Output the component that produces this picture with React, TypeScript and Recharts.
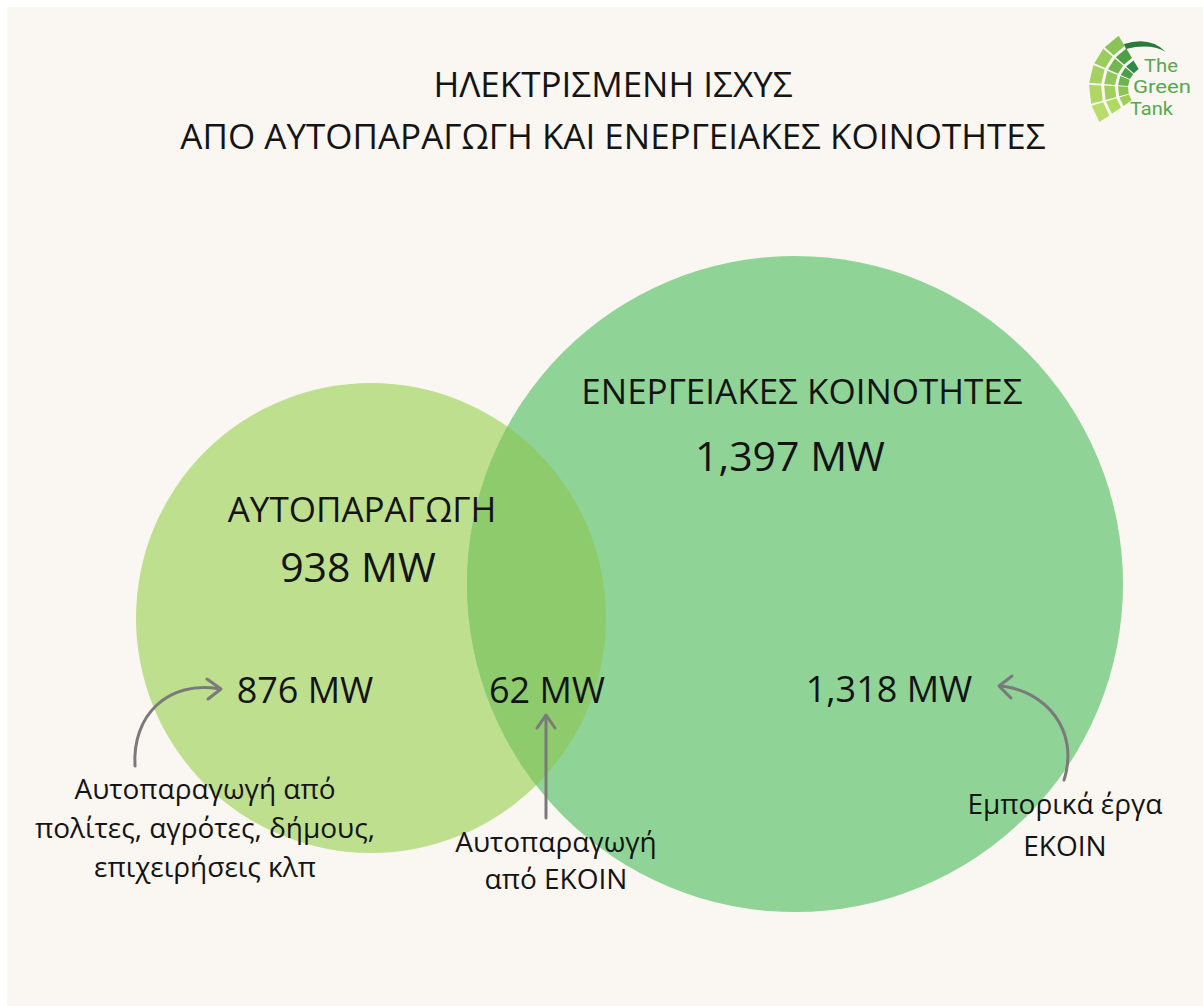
import React from 'react'
import { ScatterChart, Scatter, XAxis, YAxis, ZAxis } from 'recharts'

// values
const setNames = ['ΑΥΤΟΠΑΡΑΓΩΓΗ', 'ΕΝΕΡΓΕΙΑΚΕΣ ΚΟΙΝΟΤΗΤΕΣ']
const setTotalsMW = [938, 1397]
const regionValuesMW = [876, 62, 1318]
const regionNotes = [
  ['Αυτοπαραγωγή από', 'πολίτες, αγρότες, δήμους,', 'επιχειρήσεις κλπ'],
  ['Αυτοπαραγωγή', 'από ΕΚΟΙΝ'],
  ['Εμπορικά έργα', 'ΕΚΟΙΝ'],
]
const titleLines = ['ΗΛΕΚΤΡΙΣΜΕΝΗ ΙΣΧΥΣ', 'ΑΠΟ ΑΥΤΟΠΑΡΑΓΩΓΗ ΚΑΙ ΕΝΕΡΓΕΙΑΚΕΣ ΚΟΙΝΟΤΗΤΕΣ']

// layout (page coordinates, the axes map them 1:1)
const W = 1196
const H = 999
const X0 = 7
const Y0 = 7
const CIRCLES = [
  { x: 371, y: 618, r: 235 },
  { x: 795, y: 584, r: 328 },
]
const SET_LABEL_POS = [
  { x: 362, y: 508, tx: 358, ty: 566 },
  { x: 802, y: 390, tx: 790, ty: 455 },
]
const REGION_POS = [
  { x: 305, y: 689 },
  { x: 547, y: 689 },
  { x: 889, y: 688 },
]
const NOTE_POS = [
  { x: 205, y: 788, step: 39 },
  { x: 556, y: 841, step: 37 },
  { x: 1065, y: 803, step: 42 },
]
const FILL = ['#bedf8d', '#8fd496']
const OVERLAP_FILL = '#8dcb6c'
const FONT = '"Open Sans", "Noto Sans", sans-serif'

const fmt = (v: number) => `${v.toLocaleString('en-US')} MW`

const circleData = setNames.map((name, i) => ({
  name,
  total: setTotalsMW[i],
  x: CIRCLES[i].x,
  y: CIRCLES[i].y,
  z: Math.PI * CIRCLES[i].r * CIRCLES[i].r,
  idx: i,
}))

type Label = { x: number; y: number; text: string; size: number; weight?: number }
const labels: Label[] = []
titleLines.forEach((t, i) => labels.push({ x: 613, y: 83 + i * 52, text: t, size: 35 }))
setNames.forEach((n, i) => {
  labels.push({ x: SET_LABEL_POS[i].x, y: SET_LABEL_POS[i].y, text: n, size: 35 })
  labels.push({ x: SET_LABEL_POS[i].tx, y: SET_LABEL_POS[i].ty, text: fmt(setTotalsMW[i]), size: 41, weight: 500 })
})
regionValuesMW.forEach((v, i) => labels.push({ x: REGION_POS[i].x, y: REGION_POS[i].y, text: fmt(v), size: 36 }))
regionNotes.forEach((lines, i) =>
  lines.forEach((l, j) =>
    labels.push({ x: NOTE_POS[i].x, y: NOTE_POS[i].y + j * NOTE_POS[i].step, text: l, size: 28 })
  )
)

const CircleShape = (props: any) => {
  const { cx, cy, width, payload } = props
  const r = width / 2
  const i = payload.idx
  return (
    <g>
      {i === 0 && (
        <defs>
          <clipPath id="clipLeft">
            <circle cx={cx} cy={cy} r={r} />
          </clipPath>
        </defs>
      )}
      <circle cx={cx} cy={cy} r={r} fill={FILL[i]} />
    </g>
  )
}

const OverlapShape = (props: any) => {
  const { cx, cy, width } = props
  return <circle cx={cx} cy={cy} r={width / 2} fill={OVERLAP_FILL} clipPath="url(#clipLeft)" />
}

const TextShape = (props: any) => {
  const { cx, cy, payload } = props
  return (
    <text
      x={cx}
      y={cy}
      textAnchor="middle"
      dominantBaseline="central"
      fontFamily={FONT}
      fontSize={payload.size}
      fontWeight={payload.weight || 400}
      fill="#141414"
    >
      {payload.text}
    </text>
  )
}

function sector(cx: number, cy: number, r0: number, r1: number, a0: number, a1: number) {
  const p = (r: number, a: number) => {
    const t = (a * Math.PI) / 180
    return `${(cx + r * Math.cos(t)).toFixed(1)},${(cy - r * Math.sin(t)).toFixed(1)}`
  }
  return `M${p(r0, a0)} L${p(r1, a0)} L${p(r1, a1)} L${p(r0, a1)} Z`
}

// inner, middle, outer ring; bottom -> top
const TILE_COLORS = [
  ['#9fcd5c', '#8cc457', '#6db44d', '#4aa047', '#2f8a45'],
  ['#addb62', '#a0cf5d', '#92c859', '#73b64e', '#4e9f48'],
  ['#b9dc6c', '#b0d766', '#a6d162', '#9ccc5e', '#8bc357'],
]

function Logo() {
  const cx = 1150
  const cy = 88
  const rings = [
    [22, 32],
    [35, 46],
    [49, 61],
  ]
  const angles = [
    [214, 197],
    [195, 177],
    [175, 158],
    [156, 140],
    [138, 121],
  ]
  return (
    <g>
      {rings.map((rr, ri) =>
        angles.map((aa, ai) => (
          <path key={`${ri}-${ai}`} d={sector(cx, cy, rr[0], rr[1], aa[0], aa[1])} fill={TILE_COLORS[ri][ai]} />
        ))
      )}
      <path d="M1124,44 Q1150,36 1166,52 Q1150,43 1126,49 Z" fill="#2a7a3c" />
      <g fontFamily='"Liberation Sans Narrow", "Roboto", sans-serif' fill="#58a84e" fontSize={18}>
        <text x={1144} y={72} textLength={34} lengthAdjust="spacingAndGlyphs">The</text>
        <text x={1133} y={93} textLength={58} lengthAdjust="spacingAndGlyphs">Green</text>
        <text x={1130} y={115} textLength={43} lengthAdjust="spacingAndGlyphs">Tank</text>
      </g>
    </g>
  )
}

function Arrows() {
  const stroke = '#7a7a7a'
  return (
    <svg
      width={W}
      height={H}
      viewBox={`${X0} ${Y0} ${W} ${H}`}
      style={{ position: 'absolute', left: 0, top: 0, pointerEvents: 'none' }}
    >
      <g fill="none" stroke={stroke} strokeWidth={3} strokeLinecap="round" strokeLinejoin="round">
        <path d="M135,766 C132,715 168,680 220,689" />
        <path d="M207,679 L221,689 L208,699" />
        <path d="M546,818 L546,716" />
        <path d="M537,728 L546,715 L555,728" />
        <path d="M1064,780 C1080,730 1045,690 1000,686" />
        <path d="M1012,676 L999,686 L1011,698" />
      </g>
      <Logo />
    </svg>
  )
}

export default function App() {
  return (
    <div
      style={{
        position: 'fixed',
        left: X0,
        top: Y0,
        width: W,
        height: H,
        background: '#faf7f2',
        overflow: 'hidden',
      }}
    >
      <ScatterChart width={W} height={H} margin={{ top: 0, right: 0, bottom: 0, left: 0 }}>
        <XAxis type="number" dataKey="x" domain={[X0, X0 + W]} hide allowDataOverflow />
        <YAxis type="number" dataKey="y" domain={[Y0, Y0 + H]} reversed hide allowDataOverflow />
        <ZAxis type="number" dataKey="z" domain={[0, 1000000]} range={[0, 1000000]} />
        <Scatter data={circleData} shape={CircleShape} isAnimationActive={false} />
        <Scatter data={circleData.slice(1)} shape={OverlapShape} isAnimationActive={false} />
        <Scatter data={labels} shape={TextShape} isAnimationActive={false} />
      </ScatterChart>
      <Arrows />
    </div>
  )
}
